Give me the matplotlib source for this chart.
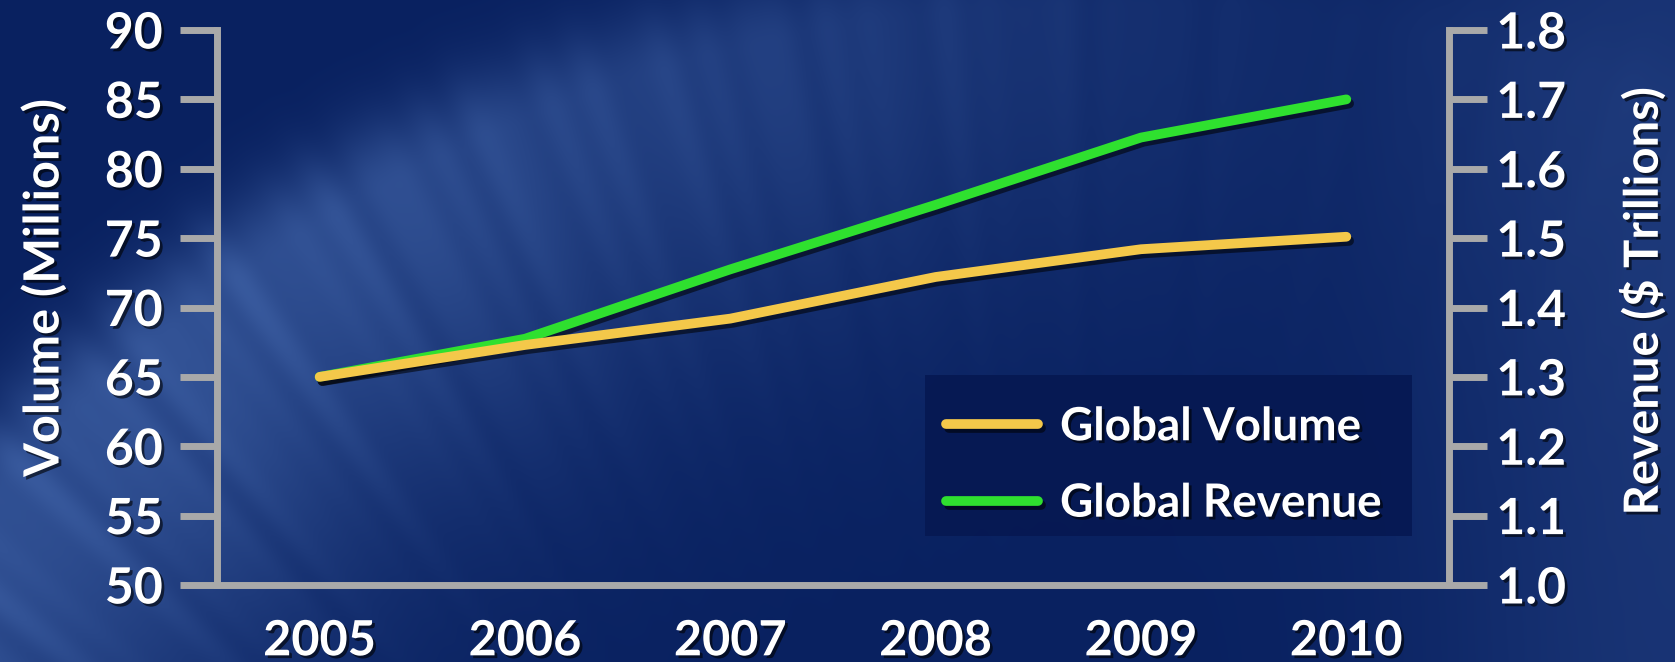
import numpy as np
import matplotlib
matplotlib.use("Agg")
import matplotlib.pyplot as plt
import matplotlib.patheffects as pe
from matplotlib.lines import Line2D
from matplotlib.patches import Rectangle

# chart data
years = [2005, 2006, 2007, 2008, 2009, 2010]
volume = [65.0, 67.3, 69.2, 72.2, 74.2, 75.1]          # millions
revenue = [1.30, 1.355, 1.455, 1.548, 1.645, 1.70]     # $ trillions
vol_ticks = [50, 55, 60, 65, 70, 75, 80, 85, 90]
rev_ticks = [1.0, 1.1, 1.2, 1.3, 1.4, 1.5, 1.6, 1.7, 1.8]
rev_labels = ['1.0', '1.1', '1.2', '1.3', '1.4', '1.5', '1.6', '1.7', '1.8']

FONT = 'Lato'
GREY = '#a9a9a9'
YELLOW = '#f4c84a'
GREEN = '#2fe02f'
W, H = 1675, 662

fig = plt.figure(figsize=(W / 100, H / 100), dpi=100)

# --- background: dark navy with a light sweeping band ---
bg = fig.add_axes([0, 0, 1, 1])
bg.axis('off')
py, px = np.mgrid[0:H, 0:W].astype(float)
dist = np.hypot(px - 1100, py - 1500)
d = dist - 1490
band = np.where(d < 0, np.exp(-(d / 300.0) ** 2), np.exp(-(d / 70.0) ** 2))
band *= np.clip(1.2 - px / 1250.0, 0.12, 1.0)
ang = np.arctan2(py - 1500, px - 1100)
streak = 1 + 0.06 * (np.sin(ang * 97) + np.sin(ang * 161 + 1.3) + 0.6 * np.sin(ang * 233 + 2.1))
right_glow = np.exp(-((px - 1680) / 260.0) ** 2) * 0.3
base = np.array([9, 33, 96]) / 255.0
light = np.array([60, 94, 162]) / 255.0
k = np.clip(band * streak * 0.8 + right_glow, 0, 1)[..., None]
img = base * (1 - k) + light * k
bg.imshow(img, extent=[0, 1, 0, 1], aspect='auto', zorder=0)
bg.set_xlim(0, 1)
bg.set_ylim(0, 1)

# --- main axes ---
ax = fig.add_axes([217 / W, 1 - 585 / H, (1449 - 217) / W, (585 - 30) / H])
ax2 = ax.twinx()
ax.set_zorder(ax2.get_zorder() + 1)
ax.patch.set_visible(False)

shadow = [pe.SimpleLineShadow(offset=(2, -3), shadow_color='black', alpha=0.55), pe.Normal()]
ax2.plot(years, revenue, color=GREEN, lw=7, solid_capstyle='round',
         solid_joinstyle='round', path_effects=shadow)
ax.plot(years, volume, color=YELLOW, lw=7, solid_capstyle='round',
        solid_joinstyle='round', path_effects=shadow)

ax.set_xlim(2004.5, 2010.5)
ax.set_ylim(50, 90)
ax2.set_ylim(1.0, 1.8)

for a in (ax, ax2):
    for s in a.spines.values():
        s.set_visible(False)
        s.set_color(GREY)
        s.set_linewidth(5)
ax.spines['left'].set_visible(True)
ax.spines['bottom'].set_visible(True)
ax2.spines['right'].set_visible(True)

txt_fx = [pe.withSimplePatchShadow(offset=(2, -2), shadow_rgbFace='black', alpha=0.6)]

ax.set_xticks(years)
ax.set_xticklabels([str(y) for y in years])
ax.tick_params(axis='x', length=0, pad=24)
ax.set_yticks(vol_ticks)
ax.tick_params(axis='y', length=27, width=5, color=GREY, pad=12)
ax2.set_yticks(rev_ticks)
ax2.set_yticklabels(rev_labels)
ax2.tick_params(axis='y', length=27, width=5, color=GREY, pad=7)

for lab in ax.get_yticklabels() + ax2.get_yticklabels():
    lab.set_fontsize(36)
for lab in ax.get_xticklabels():
    lab.set_fontsize(35)
for lab in ax.get_xticklabels() + ax.get_yticklabels() + ax2.get_yticklabels():
    lab.set_fontfamily(FONT)
    lab.set_fontweight('bold')
    lab.set_color('white')
    lab.set_path_effects(txt_fx)

fig.text(43 / W, 1 - 288 / H, 'Volume (Millions)', rotation=90, ha='center', va='center',
         fontsize=35, fontweight='bold', color='white', family=FONT, path_effects=txt_fx)
fig.text(1642 / W, 1 - 301 / H, 'Revenue ($ Trillions)', rotation=90, ha='center', va='center',
         fontsize=34, fontweight='bold', color='white', family=FONT, path_effects=txt_fx)

# legend box + entries
ax.add_patch(Rectangle((0.5747, 0.088), 0.395, 0.29, transform=ax.transAxes,
                       facecolor='#061852', alpha=0.9, edgecolor='none', zorder=1))
handles = [Line2D([], [], color=YELLOW, lw=7, solid_capstyle='round', path_effects=shadow),
           Line2D([], [], color=GREEN, lw=7, solid_capstyle='round', path_effects=shadow)]
leg = ax.legend(handles, ['Global Volume', 'Global Revenue'], loc='upper left',
                bbox_to_anchor=(0.592, 0.322), frameon=False, borderpad=0, borderaxespad=0,
                handlelength=2.0, handletextpad=0.48, labelspacing=0.75,
                prop={'family': FONT, 'weight': 'bold', 'size': 33})
for t in leg.get_texts():
    t.set_color('white')
    t.set_path_effects(txt_fx)

fig.savefig('out.png', dpi=100)
